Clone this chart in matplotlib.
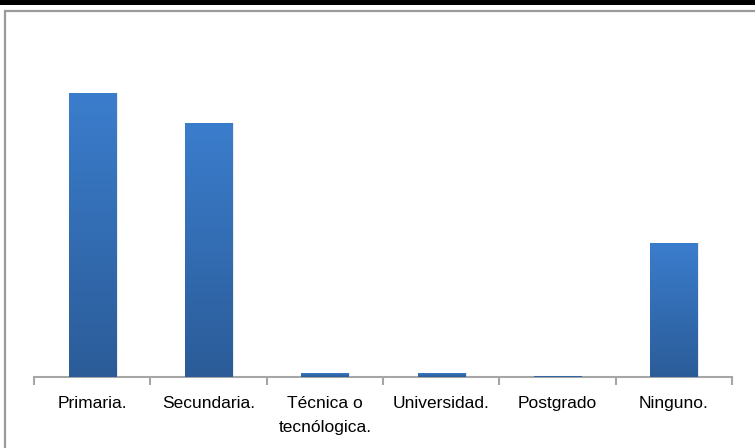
# bar chart: nivel educativo
import numpy as np
import matplotlib
matplotlib.use('Agg')
import matplotlib.pyplot as plt
from matplotlib.colors import LinearSegmentedColormap
from matplotlib.patches import Rectangle

plt.rcParams['font.family'] = ['Liberation Sans', 'DejaVu Sans']

categories = ['Primaria.', 'Secundaria.', 'Técnica o\ntecnólogica.', 'Universidad.', 'Postgrado', 'Ninguno.']
values = [42.0, 37.6, 0.6, 0.6, 0.15, 19.8]

fig = plt.figure(figsize=(7.55, 4.48), dpi=100)
W, H = 755, 448

# thick black line at the top and grey frame
fig.patches.append(Rectangle((0, 1 - 5 / H), 1, 5 / H, transform=fig.transFigure,
                             facecolor='black', edgecolor='none'))
fig.patches.append(Rectangle((5 / W, -0.1), 1.2, (H - 11) / H + 0.1, transform=fig.transFigure,
                             facecolor='none', edgecolor='#9a9a9a', linewidth=1.6))

ax = fig.add_axes([34 / W, 71 / H, (732 - 34) / W, 338 / H])
ax.set_xlim(0, len(categories))
ax.set_ylim(0, 50)

cmap = LinearSegmentedColormap.from_list('bar', ['#2b5c98', '#3b7dcd'])
grad = np.linspace(0, 1, 256).reshape(-1, 1)
width = 0.405
for i, v in enumerate(values):
    x0 = i + 0.5 - width / 2
    # soft shadow
    ax.add_patch(Rectangle((x0 + 0.012, 0), width + 0.004, v, facecolor='#000000',
                           alpha=0.08, edgecolor='none', zorder=1))
    bar = Rectangle((x0, 0), width, v, facecolor='#3574c0', edgecolor='none', zorder=2)
    ax.add_patch(bar)
    im = ax.imshow(grad, extent=[x0, x0 + width, 0, v], origin='lower', cmap=cmap,
                   aspect='auto', zorder=3)
    im.set_clip_path(bar)

ax.set_xlim(0, len(categories))
ax.set_ylim(0, 50)

for s in ['top', 'right', 'left']:
    ax.spines[s].set_visible(False)
ax.spines['bottom'].set_color('#a6a6a6')
ax.spines['bottom'].set_linewidth(1.5)
ax.set_yticks([])

ax.set_xticks(np.arange(len(categories) + 1))
ax.set_xticklabels([])
ax.set_xticks(np.arange(len(categories)) + 0.5, minor=True)
ax.set_xticklabels(categories, minor=True, fontsize=12.5, linespacing=1.7, va='top')
ax.tick_params(axis='x', which='major', length=6, width=1.5, color='#a6a6a6', direction='out')
ax.tick_params(axis='x', which='minor', length=0, pad=14)

fig.savefig('out.png', dpi=100)
